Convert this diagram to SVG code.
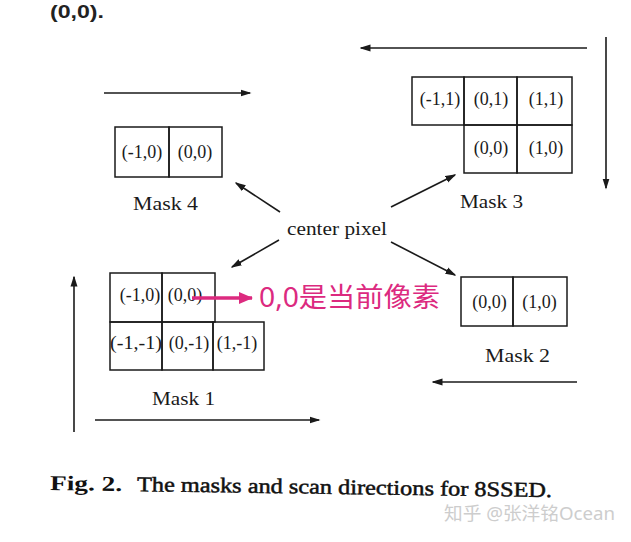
<svg xmlns="http://www.w3.org/2000/svg" width="631" height="542" viewBox="0 0 631 542">
<style>
.cell{fill:none;stroke:#1a1a1a;stroke-width:1.5}
.lbl{font-family:"Liberation Serif","DejaVu Serif",serif;font-size:18px;fill:#1a1a1a;text-anchor:middle}
.mask{font-family:"Liberation Serif","DejaVu Serif",serif;font-size:18px;fill:#1a1a1a;text-anchor:middle}
.arr{fill:none;stroke:#1a1a1a;stroke-width:1.6;marker-end:url(#ah)}
</style>
<defs>
<marker id="ah" markerUnits="userSpaceOnUse" markerWidth="11" markerHeight="8" refX="9.5" refY="4" orient="auto">
<path d="M0,0.5 L11,4 L0,7.5 z" fill="#1a1a1a"/>
</marker>
<marker id="ahp" markerUnits="userSpaceOnUse" markerWidth="14" markerHeight="12" refX="13" refY="6" orient="auto">
<path d="M0,0 L14,6 L0,12 z" fill="#dc2a7f"/>
</marker>
</defs>
<rect width="631" height="542" fill="#fff"/>

<text id="top-text" x="50" y="18" font-family="Liberation Sans, Arial, sans-serif" font-weight="bold" font-size="19" fill="#222" textLength="54" lengthAdjust="spacingAndGlyphs">(0,0).</text>

<g id="connectors">
<line class="arr" x1="104" y1="93" x2="250" y2="93"/>
<line class="arr" x1="587" y1="48" x2="361" y2="48"/>
<line class="arr" x1="606" y1="37" x2="606" y2="188"/>
<line class="arr" x1="74" y1="432" x2="74" y2="277"/>
<line class="arr" x1="95" y1="420" x2="319" y2="420"/>
<line class="arr" x1="577" y1="382" x2="433" y2="382"/>
<line class="arr" x1="280" y1="212" x2="236" y2="183"/>
<line class="arr" x1="391" y1="207" x2="455" y2="175"/>
<line class="arr" x1="279" y1="240" x2="232" y2="267"/>
<line class="arr" x1="391" y1="242" x2="455" y2="275"/>
</g>

<g id="mask4">
<rect class="cell" x="115" y="127" width="54" height="50"/>
<rect class="cell" x="169" y="127" width="53" height="50"/>
<text class="lbl" x="142" y="158">(-1,0)</text>
<text class="lbl" x="195" y="158">(0,0)</text>
<text class="mask" x="165.5" y="210" textLength="65" lengthAdjust="spacingAndGlyphs">Mask 4</text>
</g>

<g id="mask3">
<rect class="cell" x="412" y="77" width="52" height="48"/>
<rect class="cell" x="464" y="77" width="53" height="48"/>
<rect class="cell" x="517" y="77" width="55" height="48"/>
<rect class="cell" x="464" y="125" width="53" height="48"/>
<rect class="cell" x="517" y="125" width="55" height="48"/>
<text class="lbl" x="440" y="105">(-1,1)</text>
<text class="lbl" x="491" y="105">(0,1)</text>
<text class="lbl" x="546" y="105">(1,1)</text>
<text class="lbl" x="491" y="154">(0,0)</text>
<text class="lbl" x="546" y="154">(1,0)</text>
<text class="mask" x="491.5" y="208" textLength="63" lengthAdjust="spacingAndGlyphs">Mask 3</text>
</g>

<g id="center">
<text x="337" y="235" font-family="Liberation Serif, DejaVu Serif, serif" font-size="19" fill="#1a1a1a" text-anchor="middle" textLength="100" lengthAdjust="spacingAndGlyphs">center pixel</text>
</g>

<g id="mask1">
<rect class="cell" x="110" y="273" width="52" height="49"/>
<rect class="cell" x="162" y="273" width="53" height="49"/>
<rect class="cell" x="110" y="322" width="52" height="48"/>
<rect class="cell" x="162" y="322" width="51" height="48"/>
<rect class="cell" x="213" y="322" width="51" height="48"/>
<text class="lbl" x="140" y="301">(-1,0)</text>
<text class="lbl" x="185" y="301">(0,0)</text>
<text class="lbl" x="136" y="349" textLength="52" lengthAdjust="spacingAndGlyphs">(-1,-1)</text>
<text class="lbl" x="189" y="349">(0,-1)</text>
<text class="lbl" x="237" y="349">(1,-1)</text>
<text class="mask" x="183.5" y="405" textLength="63" lengthAdjust="spacingAndGlyphs">Mask 1</text>
</g>

<g id="annotation">
<line x1="192" y1="298" x2="252" y2="298" stroke="#dc2a7f" stroke-width="3.5" marker-end="url(#ahp)"/>
<text x="259" y="307" font-family="Noto Sans, Noto Sans CJK SC, sans-serif" font-size="27" fill="#dc2a7f" textLength="181" lengthAdjust="spacingAndGlyphs">0,0是当前像素</text>
</g>

<g id="mask2">
<rect class="cell" x="461" y="277" width="52" height="49"/>
<rect class="cell" x="513" y="277" width="54" height="49"/>
<text class="lbl" x="489.5" y="308">(0,0)</text>
<text class="lbl" x="539.5" y="308">(1,0)</text>
<text class="mask" x="517.5" y="362" textLength="65" lengthAdjust="spacingAndGlyphs">Mask 2</text>
</g>

<g id="caption" transform="rotate(0.8 50 490)">
<text x="50" y="490" font-family="Liberation Serif, DejaVu Serif, serif" font-weight="bold" font-size="21" fill="#111" textLength="72" lengthAdjust="spacingAndGlyphs">Fig. 2.</text>
<text x="137" y="490" font-family="Liberation Serif, DejaVu Serif, serif" font-size="21" fill="#111" stroke="#111" stroke-width="0.5" textLength="415" lengthAdjust="spacingAndGlyphs">The masks and scan directions for 8SSED.</text>
</g>

<text id="watermark" x="444" y="520" font-family="Noto Sans, Noto Sans CJK SC, sans-serif" font-size="18" fill="#cdcdcd" textLength="171" lengthAdjust="spacingAndGlyphs">知乎 @张洋铭Ocean</text>
</svg>
